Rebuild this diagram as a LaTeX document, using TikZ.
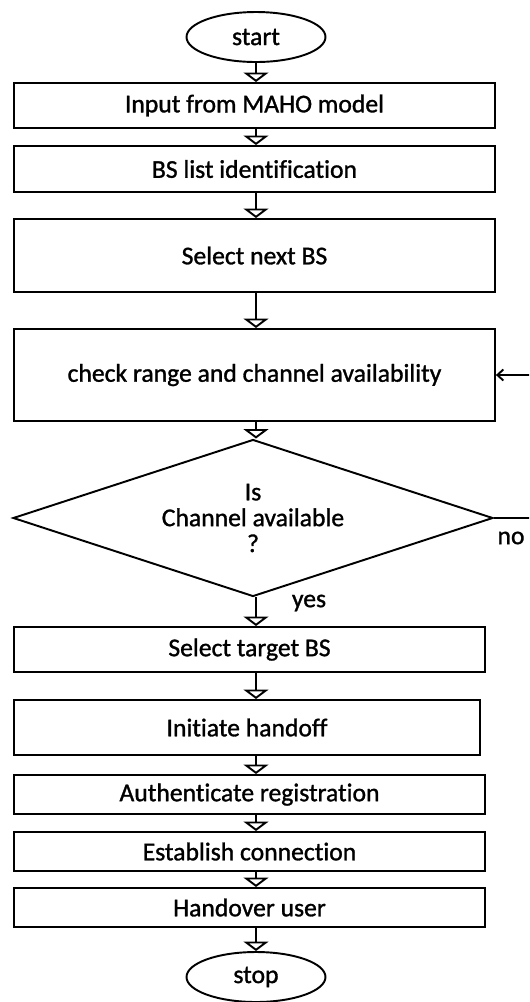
\documentclass[tikz,border=0pt]{standalone}
\usepackage{fontspec}
\setmainfont{Carlito}[Ligatures=NoCommon, FakeBold=1.2]
\usetikzlibrary{arrows.meta,shapes.geometric}
\def\flowfont{\fontsize{14.6}{14.7}\selectfont}
\tikzset{
	box/.style={draw, rectangle, line width=1.1pt, font=\flowfont, inner sep=2pt},
	term/.style={draw, ellipse, line width=1.1pt, font=\flowfont, minimum width=2.78cm, minimum height=1.0cm, inner sep=0pt},
	decision/.style={draw, diamond, aspect=3.06, line width=1.1pt, font=\flowfont, align=center, minimum width=9.6cm, minimum height=3.14cm, inner sep=0pt},
	flow/.style={line width=1.1pt, -{Triangle[open, width=0.5cm, length=0.19cm]}},
	back/.style={line width=1.1pt, -{Straight Barb[length=0.12cm, width=0.22cm]}},
	lbl/.style={font=\flowfont, inner sep=0pt}
}
\begin{document}
\begin{tikzpicture}[x=0.02cm, y=-0.02cm]
			%%%%% START %%%%%
			
			\useasboundingbox (0, 0) rectangle (529, 1002);
			\clip (0, 0) rectangle (529, 1002);
			
			\node[term] (start) at (256, 37) {start};
			
			\node[box, minimum width=9.62cm, minimum height=0.90cm] (input) at (254.5, 105.5) {Input from MAHO model};
			\node[box, minimum width=9.62cm, minimum height=0.92cm] (bslist) at (254.5, 169) {BS list identification};
			\node[box, minimum width=9.62cm, minimum height=1.46cm] (nextbs) at (254.5, 255.5) {Select next BS};
			\node[box, minimum width=9.62cm, minimum height=1.84cm] (check) at (254.5, 375) {check range and channel availability};
			
			\node[decision] (dec) at (253, 518) {Is\\Channel available\\?};
			
			\node[box, minimum width=9.42cm, minimum height=0.90cm] (target) at (249.5, 649.5) {Select target BS};
			\node[box, minimum width=9.32cm, minimum height=1.10cm] (handoff) at (247, 727.5) {Initiate handoff};
			\node[box, minimum width=9.42cm, minimum height=0.78cm] (auth) at (249.5, 794.5) {Authenticate registration};
			\node[box, minimum width=9.42cm, minimum height=0.78cm] (conn) at (249.5, 851.5) {Establish connection};
			\node[box, minimum width=9.42cm, minimum height=0.78cm] (user) at (249.5, 907.5) {Handover user};
			
			\node[term] (stop) at (256, 977) {stop};
			
			\node[lbl] (yes) at (309, 603) {yes};
			\node[lbl] (no) at (511, 538) {no};
			
			% main flow
			\foreach \a/\b in {start/input, input/bslist, bslist/nextbs, nextbs/check, check/dec, dec/target, target/handoff, handoff/auth, auth/conn, conn/user, user/stop}
				\draw[flow] (\a.south -| start) -- (\b.north -| start);
			
			% no -> back to check
			\draw[back] (dec.east) -- ++(60, 0) |- (check.east);
			
			%%%%% END %%%%%
		\end{tikzpicture}
\end{document}
